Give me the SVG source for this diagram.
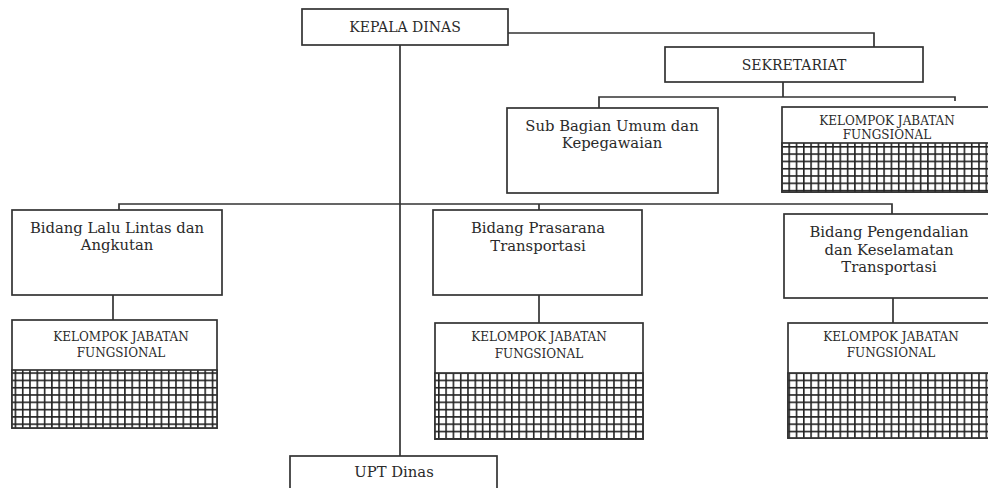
<svg xmlns="http://www.w3.org/2000/svg" width="988" height="488" viewBox="0 0 988 488">
<style>
.box{fill:#fff;stroke:#333;stroke-width:1.7}
.grid{fill:url(#hatch);stroke:#333;stroke-width:1.7}
.t{font-family:"DejaVu Serif","Liberation Serif",serif;fill:#2a2a2a;text-anchor:middle}
.big{font-size:14.8px}
.head{font-size:14px}
.small{font-size:12px}
.conn{fill:none;stroke:#333;stroke-width:1.7}
</style>
<defs>
<pattern id="hatch" patternUnits="userSpaceOnUse" width="7.3" height="7.3">
<rect width="7.3" height="7.3" fill="#fff"/>
<path d="M0,0.8 H7.3 M0.8,0 V7.3" stroke="#222" stroke-width="1.6"/>
</pattern>
</defs>
<rect width="988" height="488" fill="#fff"/>
<g id="connectors">
<path class="conn" d="M508,33 H874 V47"/>
<path class="conn" d="M400,45 V456"/>
<path class="conn" d="M783,82 V97 M599,108 V97 H955 V101"/>
<path class="conn" d="M119,210 V204 H892 V214 M539,204 V210"/>
<path class="conn" d="M113,295 V320"/>
<path class="conn" d="M539,295 V323"/>
<path class="conn" d="M893,298 V323"/>
</g>
<g id="kepala-dinas">
<rect class="box" x="302" y="9" width="206" height="36"/>
<text class="t head" x="405" y="32">KEPALA DINAS</text>
</g>
<g id="sekretariat">
<rect class="box" x="665" y="47" width="258" height="35"/>
<text class="t head" x="794" y="70">SEKRETARIAT</text>
</g>
<g id="sub-bagian">
<rect class="box" x="507" y="108" width="211" height="85"/>
<text class="t big" x="612" y="131">Sub Bagian Umum dan</text>
<text class="t big" x="612" y="148">Kepegawaian</text>
</g>
<g id="kjf-sekretariat">
<rect class="box" x="782" y="107" width="210" height="85"/>
<rect class="grid" x="782" y="143" width="210" height="49"/>
<text class="t small" x="887" y="125">KELOMPOK JABATAN</text>
<text class="t small" x="887" y="139">FUNGSIONAL</text>
</g>
<g id="bidang-lalu-lintas">
<rect class="box" x="12" y="210" width="210" height="85"/>
<text class="t big" x="117" y="233">Bidang Lalu Lintas dan</text>
<text class="t big" x="117" y="250">Angkutan</text>
</g>
<g id="kjf-lalu-lintas">
<rect class="box" x="12" y="320" width="205" height="108"/>
<rect class="grid" x="12" y="370" width="205" height="58"/>
<text class="t small" x="121" y="341">KELOMPOK JABATAN</text>
<text class="t small" x="121" y="357">FUNGSIONAL</text>
</g>
<g id="bidang-prasarana">
<rect class="box" x="433" y="210" width="209" height="85"/>
<text class="t big" x="538" y="233">Bidang Prasarana</text>
<text class="t big" x="538" y="251">Transportasi</text>
</g>
<g id="kjf-prasarana">
<rect class="box" x="435" y="323" width="208" height="116"/>
<rect class="grid" x="435" y="373" width="208" height="66"/>
<text class="t small" x="539" y="341">KELOMPOK JABATAN</text>
<text class="t small" x="539" y="358">FUNGSIONAL</text>
</g>
<g id="bidang-pengendalian">
<rect class="box" x="784" y="214" width="210" height="84"/>
<text class="t big" x="889" y="237">Bidang Pengendalian</text>
<text class="t big" x="889" y="255">dan Keselamatan</text>
<text class="t big" x="889" y="272">Transportasi</text>
</g>
<g id="kjf-pengendalian">
<rect class="box" x="788" y="323" width="206" height="115"/>
<rect class="grid" x="788" y="373" width="206" height="65"/>
<text class="t small" x="891" y="341">KELOMPOK JABATAN</text>
<text class="t small" x="891" y="357">FUNGSIONAL</text>
</g>
<g id="upt-dinas">
<rect class="box" x="290" y="456" width="207" height="40"/>
<text class="t big" x="394" y="477">UPT Dinas</text>
</g>
</svg>
